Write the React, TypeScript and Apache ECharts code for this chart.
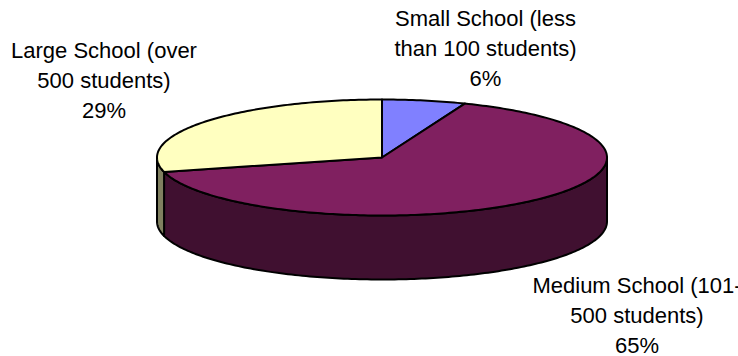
import React, { useEffect, useRef } from "react";
import * as echarts from "echarts";

// School-size shares, clockwise from twelve o'clock.
const categories = [
  "Small School (less\nthan 100 students)",
  "Medium School (101-\n500 students)",
  "Large School (over\n500 students)",
];
const shares = [6, 65, 29];
const topColors = ["#8080FF", "#802060", "#FFFFC0"];
const wallColors = ["#404080", "#401030", "#808060"];

const CX = 382;
const CY = 157.5;
const RX = 225;
const RY = 58;
const DEPTH = 64;
const TOTAL = shares.reduce((a, b) => a + b, 0);

const rimPoint = (deg: number, dy = 0): number[] => {
  const t = (deg * Math.PI) / 180;
  return [CX + RX * Math.sin(t), CY - RY * Math.cos(t) + dy];
};

const arcPoints = (from: number, to: number, dy = 0): number[][] => {
  const n = Math.max(2, Math.ceil(Math.abs(to - from)));
  const pts: number[][] = [];
  for (let i = 0; i <= n; i++) pts.push(rimPoint(from + ((to - from) * i) / n, dy));
  return pts;
};

const stroke = { stroke: "#000", lineWidth: 2, lineJoin: "round" as const };

const renderSlice = (params: any, api: any) => {
  const i = params.dataIndex;
  const start = (shares.slice(0, i).reduce((a, b) => a + b, 0) / TOTAL) * 360;
  const end = start + (api.value(0) / TOTAL) * 360;
  const children: any[] = [];
  // The side wall shows only on the front half of the rim (90deg to 270deg).
  const a = Math.max(start, 90);
  const b = Math.min(end, 270);
  if (b > a) {
    children.push({
      type: "polygon",
      shape: { points: [...arcPoints(a, b), ...arcPoints(b, a, DEPTH)] },
      style: { fill: wallColors[i], ...stroke },
    });
  }
  children.push({
    type: "polygon",
    shape: { points: [[CX, CY], ...arcPoints(start, end)] },
    style: { fill: topColors[i], ...stroke },
  });
  return { type: "group", children };
};

const labelPositions = [
  { x: 485.5, y: 48.5 },
  { x: 637, y: 315 },
  { x: 104, y: 80.5 },
];

export default function App() {
  const ref = useRef<HTMLDivElement>(null);
  useEffect(() => {
    const chart = echarts.init(ref.current!, undefined, { renderer: "svg" });
    chart.setOption({
      animation: false,
      backgroundColor: "#fff",
      series: [
        {
          type: "custom",
          coordinateSystem: "none",
          renderItem: renderSlice,
          data: shares.map((v) => [v]),
          silent: true,
        },
      ],
      graphic: categories.map((name, i) => ({
        type: "text",
        x: labelPositions[i].x,
        y: labelPositions[i].y,
        style: {
          text: `${name}\n${shares[i]}%`,
          fill: "#000",
          font: '22px "Liberation Sans", Arial, sans-serif',
          lineHeight: 30,
          align: "center",
          verticalAlign: "middle",
        },
      })),
    });
    return () => chart.dispose();
  }, []);
  return <div ref={ref} style={{ position: "fixed", left: 0, top: 0, width: 738, height: 356 }} />;
}
